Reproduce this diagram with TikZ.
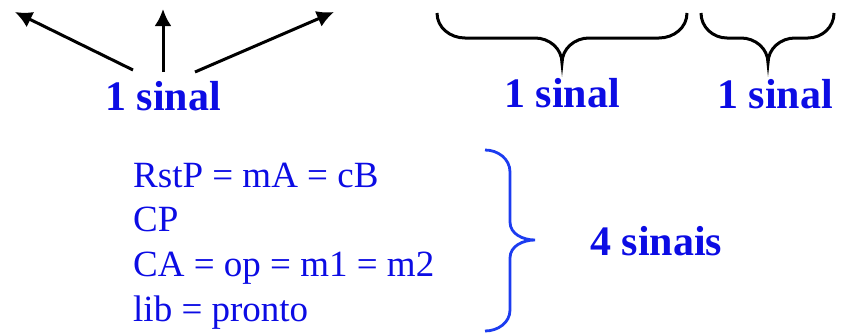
\documentclass[tikz,border=0pt]{standalone}
\usepackage{fontspec}
\setmainfont{Liberation Serif}
\usetikzlibrary{arrows.meta}
\definecolor{sigblue}{RGB}{12,12,228}
\definecolor{braceblue}{RGB}{28,60,240}
\begin{document}
\begin{tikzpicture}[x=1pt,y=-1pt,
  fan/.style={-{Latex[length=17pt,width=17pt]},line width=3pt},
  count/.style={text=sigblue,font=\fontsize{42}{50}\selectfont\bfseries,anchor=base,inner sep=0pt},
  row/.style={text=sigblue,font=\fontsize{37}{44}\selectfont,anchor=base west,inner sep=0pt}]
  \useasboundingbox (0,0) rectangle (843,332);
  % one signal fanning out to three places
  \node[count] (outA) at (163,110) {1 sinal};
  \coordinate (fromL) at (133,70);
  \coordinate (fromM) at (163,72);
  \coordinate (fromR) at (195,72);
  \coordinate (tipL) at (15,12);
  \coordinate (tipM) at (163,9);
  \coordinate (tipR) at (334,12);
  \draw[fan] (fromL) -- (tipL);
  \draw[fan] (fromM) -- (tipM);
  \draw[fan] (fromR) -- (tipR);
  % bus groups above, one signal each
  \draw[line width=3pt] (437,13) to[out=-90,in=180] (465,38) -- (535,38)
    to[out=0,in=90] (562,63) to[out=90,in=180] (589,38) -- (659,38)
    to[out=0,in=-90] (687,13);
  \draw[line width=3pt] (701,13) to[out=-90,in=180] (727,38) -- (741,38)
    to[out=0,in=90] (768,63) to[out=90,in=180] (795,38) -- (808,38)
    to[out=0,in=-90] (834,13);
  \node[count] (outB) at (562,107) {1 sinal};
  \node[count] (outC) at (775,108) {1 sinal};
  % the four control lines and their total
  \foreach \txt [count=\i] in {RstP = mA = cB, CP, CA = op = m1 = m2, lib = pronto}
    \node[row] (row\i) at (133,{187+44.7*(\i-1)}) {\txt};
  \draw[braceblue,line width=2.8pt] (485,150) to[out=0,in=90] (510,172) -- (510,222)
    to[out=-90,in=180] (535,240) to[out=180,in=90] (510,258) -- (510,310)
    to[out=-90,in=0] (485,331);
  \node[count,anchor=base west] (total) at (590,255) {4 sinais};
\end{tikzpicture}
\end{document}
